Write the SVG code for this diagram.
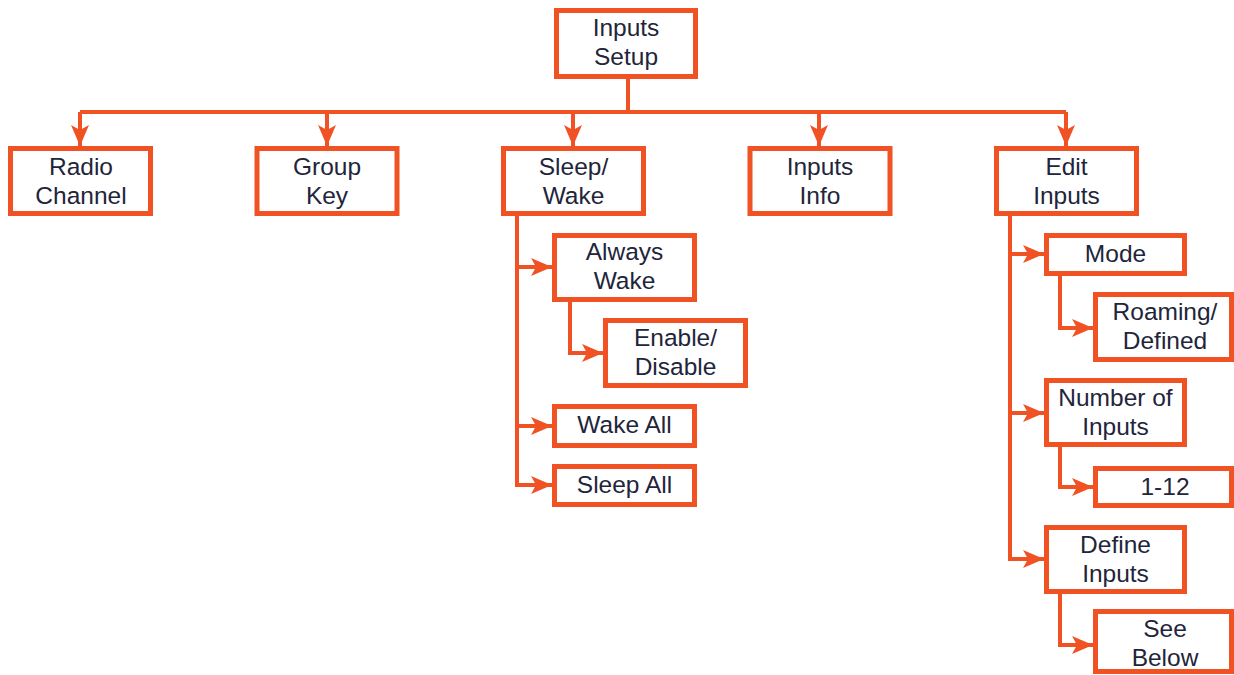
<svg xmlns="http://www.w3.org/2000/svg" width="1234" height="675" viewBox="0 0 1234 675">
<style>
.box{fill:#fff;stroke:#F05224;stroke-width:5}
.con{fill:none;stroke:#F05224;stroke-width:4;stroke-linejoin:miter}
.arr{marker-end:url(#ah)}
text{font-family:"Liberation Sans",Arial,sans-serif;font-size:24.5px;fill:#22253a;text-anchor:middle}
</style>
<defs>
<marker id="ah" markerUnits="userSpaceOnUse" markerWidth="24" markerHeight="20" refX="21" refY="9" orient="auto" overflow="visible">
<path d="M0,0 L21,9 L0,18 L5,9 z" fill="#F05224"/>
</marker>
</defs>
<rect width="1234" height="675" fill="#fff"/>
<g id="connectors">
<path class="con" d="M628,79 V112"/>
<path class="con" d="M80,112 H1066"/>
<path class="con arr" d="M80,112 V146"/>
<path class="con arr" d="M327,112 V146"/>
<path class="con arr" d="M573,112 V146"/>
<path class="con arr" d="M819,112 V146"/>
<path class="con arr" d="M1066,112 V146"/>
<path class="con" d="M517,216 V485"/>
<path class="con arr" d="M517,267 H552"/>
<path class="con arr" d="M517,426 H552"/>
<path class="con arr" d="M515,485 H552"/>
<path class="con arr" d="M570,302 V353 H603"/>
<path class="con" d="M1010,216 V559"/>
<path class="con arr" d="M1010,254 H1044"/>
<path class="con arr" d="M1010,413 H1044"/>
<path class="con arr" d="M1008,559 H1044"/>
<path class="con arr" d="M1060,276 V328 H1093"/>
<path class="con arr" d="M1060,447 V487 H1093"/>
<path class="con arr" d="M1060,594 V645 H1093"/>
</g>
<g id="inputs-setup"><rect class="box" x="556.5" y="10.5" width="139" height="66"/><text x="626" y="36">Inputs</text><text x="626" y="65">Setup</text></g>
<g id="radio-channel"><rect class="box" x="10.5" y="148.5" width="140" height="65"/><text x="81" y="175">Radio</text><text x="81" y="204">Channel</text></g>
<g id="group-key"><rect class="box" x="257" y="148.5" width="140" height="65"/><text x="327" y="175">Group</text><text x="327" y="204">Key</text></g>
<g id="sleep-wake"><rect class="box" x="503.5" y="148.5" width="140" height="65"/><text x="573.5" y="175">Sleep/</text><text x="573.5" y="204">Wake</text></g>
<g id="inputs-info"><rect class="box" x="750" y="148.5" width="140" height="65"/><text x="820" y="175">Inputs</text><text x="820" y="204">Info</text></g>
<g id="edit-inputs"><rect class="box" x="996.5" y="148.5" width="140" height="65"/><text x="1066.5" y="175">Edit</text><text x="1066.5" y="204">Inputs</text></g>
<g id="always-wake"><rect class="box" x="554.5" y="235.5" width="140" height="64"/><text x="624.5" y="260">Always</text><text x="624.5" y="289">Wake</text></g>
<g id="enable-disable"><rect class="box" x="605.5" y="320.5" width="140" height="65"/><text x="675.5" y="346">Enable/</text><text x="675.5" y="375">Disable</text></g>
<g id="wake-all"><rect class="box" x="554.5" y="406.5" width="140" height="39"/><text x="624.5" y="433">Wake All</text></g>
<g id="sleep-all"><rect class="box" x="554.5" y="466.5" width="140" height="38"/><text x="624.5" y="493">Sleep All</text></g>
<g id="mode"><rect class="box" x="1046.5" y="235.5" width="138" height="38"/><text x="1115.5" y="262">Mode</text></g>
<g id="roaming-defined"><rect class="box" x="1095.5" y="294.5" width="136" height="65"/><text x="1165" y="320">Roaming/</text><text x="1165" y="349">Defined</text></g>
<g id="number-of-inputs"><rect class="box" x="1046.5" y="380.5" width="138" height="64"/><text x="1115.5" y="406">Number of</text><text x="1115.5" y="435">Inputs</text></g>
<g id="one-twelve"><rect class="box" x="1095.5" y="468.5" width="136" height="37"/><text x="1165" y="495">1-12</text></g>
<g id="define-inputs"><rect class="box" x="1046.5" y="527.5" width="138" height="64"/><text x="1115.5" y="553">Define</text><text x="1115.5" y="582">Inputs</text></g>
<g id="see-below"><rect class="box" x="1095.5" y="611.5" width="136" height="60"/><text x="1165" y="637">See</text><text x="1165" y="666">Below</text></g>
</svg>
